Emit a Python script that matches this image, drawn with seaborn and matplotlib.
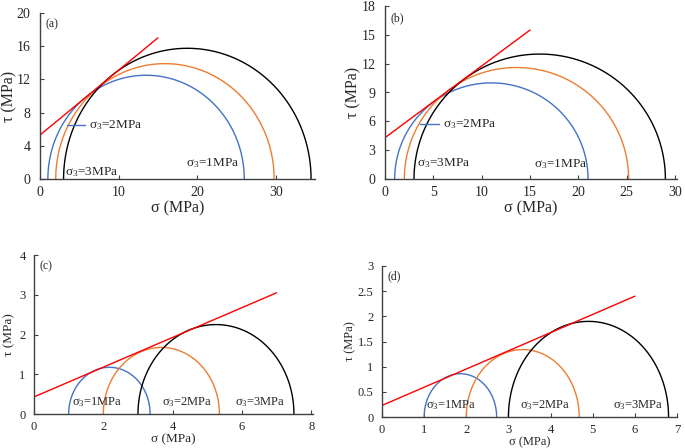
import numpy as np
import pandas as pd
import matplotlib
matplotlib.use("Agg")
import matplotlib.pyplot as plt
import seaborn as sns

# ---------------- data ----------------
sigma3 = [1, 2, 3]
sigma1_a = [26.0, 29.8, 34.5]
sigma1_b = [21.0, 25.2, 29.0]
sigma1_c = [3.35, 5.35, 7.5]
sigma1_d = [2.72, 4.68, 6.8]

# strength envelope: intercept (cohesion) and end point of drawn line
env_a = [5.3, 15.0, 17.0]
env_b = [4.3, 15.0, 15.5]
env_c = [0.43, 7.0, 3.05]
env_d = [0.23, 6.0, 2.4]

labels = ["σ$_3$=1MPa", "σ$_3$=2MPa", "σ$_3$=3MPa"]
panel_names = ["(a)", "(b)", "(c)", "(d)"]

xlims = [(0, 35), (0, 30.2), (0, 8.05), (0, 7)]
ylims = [(0, 20), (0, 18), (0, 4), (0, 3)]
xticks = [[0, 10, 20, 30], [0, 5, 10, 15, 20, 25, 30], [0, 2, 4, 6, 8], [0, 1, 2, 3, 4, 5, 6, 7]]
yticks = [[0, 4, 8, 12, 16, 20], [0, 3, 6, 9, 12, 15, 18], [0, 1, 2, 3, 4],
          [0, 0.5, 1, 1.5, 2, 2.5, 3]]
ytick_labels = [None, None, None, ["0", "0.5", "1", "1.5", "2", "2.5", "3"]]

# ---------------- style ----------------
sns.set_style("ticks")
plt.rcParams["font.family"] = ["Liberation Serif", "DejaVu Serif"]
plt.rcParams["mathtext.fontset"] = "custom"
plt.rcParams["mathtext.rm"] = "Liberation Serif"
plt.rcParams["mathtext.it"] = "Liberation Serif:italic"

colors = ["#4472C4", "#ED7D31", "#000000"]
red = "#FF0000"

W, H = 685, 448
fig = plt.figure(figsize=(W / 100, H / 100), dpi=100)

# axes boxes in pixels: left, right, top, bottom
boxes = [(40, 315, 13, 179), (385, 677, 6, 179), (34, 313, 255, 414), (382, 677, 266, 417)]
ylab_x = [-0.112, -0.108, -0.088, -0.108]
xlab_y = [-0.175, -0.168, -0.162, -0.168]
lab_fs = [11.5, 11.5, 9.5, 9]

def make_ax(b):
    l, r, t, bt = b
    return fig.add_axes([l / W, (H - bt) / H, (r - l) / W, (bt - t) / H])

sig1_all = [sigma1_a, sigma1_b, sigma1_c, sigma1_d]
env_all = [env_a, env_b, env_c, env_d]

theta = np.linspace(0, np.pi, 300)

for i in range(4):
    ax = make_ax(boxes[i])
    s1 = sig1_all[i]
    for j in range(3):
        c = (sigma3[j] + s1[j]) / 2
        rr = (s1[j] - sigma3[j]) / 2
        df = pd.DataFrame({"x": c + rr * np.cos(theta), "y": rr * np.sin(theta)})
        sns.lineplot(data=df, x="x", y="y", sort=False, estimator=None,
                     color=colors[j], linewidth=1.0, ax=ax)
    e = env_all[i]
    dfe = pd.DataFrame({"x": [0, e[1]], "y": [e[0], e[2]]})
    sns.lineplot(data=dfe, x="x", y="y", sort=False, estimator=None,
                 color=red, linewidth=1.0, ax=ax)

    ax.set_xlim(*xlims[i])
    ax.set_ylim(*ylims[i])
    ax.set_xticks(xticks[i])
    ax.set_yticks(yticks[i])
    if ytick_labels[i] is not None:
        ax.set_yticklabels(ytick_labels[i])
    for sp in ["top", "right"]:
        ax.spines[sp].set_visible(False)
    for sp in ["left", "bottom"]:
        ax.spines[sp].set_color("#404040")
        ax.spines[sp].set_linewidth(1.0)
    big = i < 2
    ax.tick_params(direction="in", length=3, width=0.8, color="#404040",
                   labelsize=10 if big else 9, pad=5)
    ax.tick_params(axis="y", pad=7 if big else 6)
    ax.set_xlabel("σ (MPa)", fontsize=lab_fs[i])
    ax.set_ylabel("τ (MPa)", fontsize=lab_fs[i])
    ax.xaxis.set_label_coords(0.5, xlab_y[i])
    ax.yaxis.set_label_coords(ylab_x[i], 0.5)
    ax.xaxis.label.set_va("center")
    ax.yaxis.label.set_va("center")
    ax.text(0.02, 0.93, panel_names[i], transform=ax.transAxes, fontsize=8.5,
            ha="left", va="center")

    if i == 0:
        ax.plot([3.4, 5.7], [6.5, 6.5], color=colors[0], linewidth=1.0)
        ax.text(6.2, 6.5, labels[1], fontsize=9.5, va="center", ha="left")
        ax.text(3.2, 0.8, labels[2], fontsize=9.5, va="center", ha="left")
        ax.text(18.6, 1.9, labels[0], fontsize=9.5, va="center", ha="left")
    elif i == 1:
        ax.plot([3.6, 5.6], [5.7, 5.7], color=colors[0], linewidth=1.0)
        ax.text(6.0, 5.7, labels[1], fontsize=9.5, va="center", ha="left")
        ax.text(3.3, 1.7, labels[2], fontsize=9.5, va="center", ha="left")
        ax.text(15.4, 1.6, labels[0], fontsize=9.5, va="center", ha="left")
    elif i == 2:
        ax.text(1.1, 0.3, labels[0], fontsize=9, va="center", ha="left")
        ax.text(3.68, 0.3, labels[1], fontsize=9, va="center", ha="left")
        ax.text(5.8, 0.3, labels[2], fontsize=9, va="center", ha="left")
    else:
        ax.text(1.05, 0.23, labels[0], fontsize=9, va="center", ha="left")
        ax.text(3.28, 0.23, labels[1], fontsize=9, va="center", ha="left")
        ax.text(5.48, 0.23, labels[2], fontsize=9, va="center", ha="left")

fig.savefig("out.png", dpi=100)
